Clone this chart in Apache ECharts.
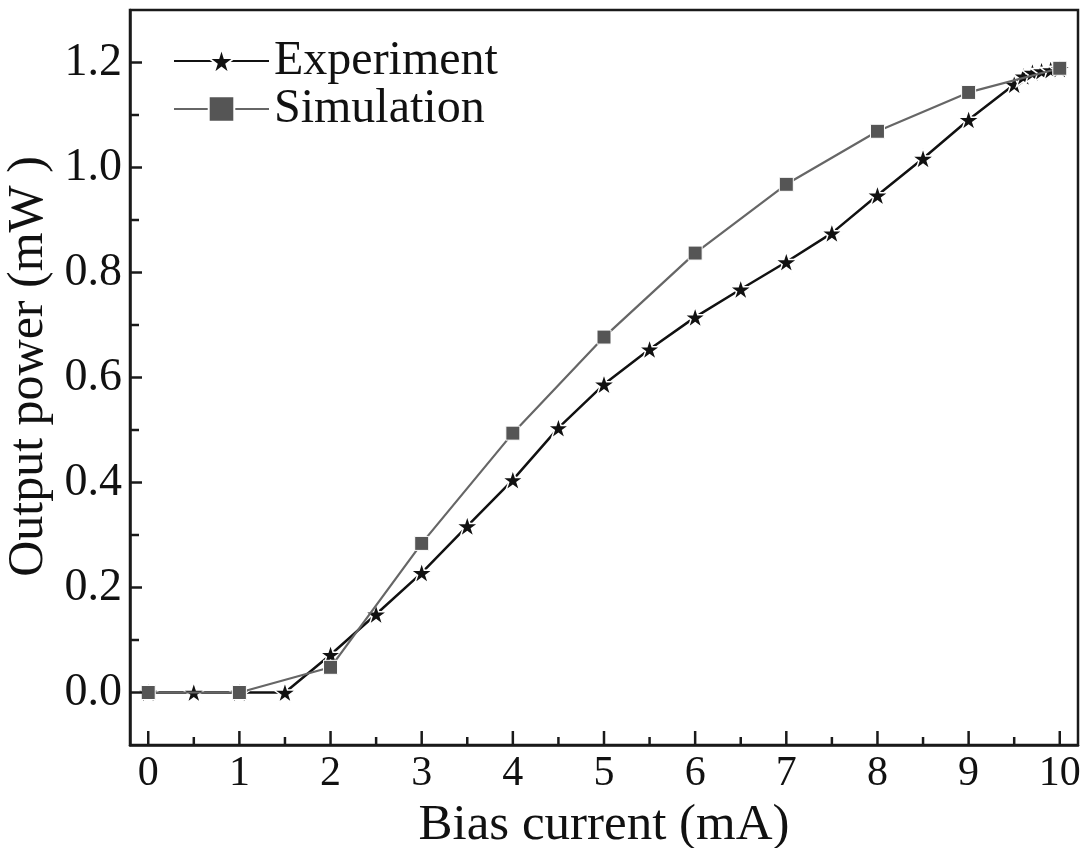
<!DOCTYPE html>
<html>
<head>
<meta charset="utf-8">
<script src="https://cdn.jsdelivr.net/npm/echarts@6/dist/echarts.min.js"></script>
<style>
html,body{margin:0;padding:0;background:#fff;}
#chart{width:1086px;height:848px;}
</style>
</head>
<body>
<div id="chart"></div>
<script>
// ---- data ----
const expX = [0, 0.5, 1, 1.5, 2, 2.5, 3, 3.5, 4, 4.5, 5, 5.5, 6, 6.5, 7, 7.5, 8, 8.5, 9, 9.5, 9.6, 9.7, 9.8, 9.9, 10];
const expY = [0, 0, 0, 0, 0.072, 0.149, 0.228, 0.317, 0.405, 0.504, 0.587, 0.654, 0.715, 0.768, 0.820, 0.875, 0.947, 1.017, 1.091, 1.158, 1.174, 1.181, 1.184, 1.186, 1.188];
const simX = [0, 1, 2, 3, 4, 5, 6, 7, 8, 9, 10];
const simY = [0, 0, 0.048, 0.284, 0.494, 0.677, 0.837, 0.968, 1.069, 1.143, 1.189];
const xMajorTicks = [0, 1, 2, 3, 4, 5, 6, 7, 8, 9, 10];
const xMinorTicks = [0.5, 1.5, 2.5, 3.5, 4.5, 5.5, 6.5, 7.5, 8.5, 9.5];
const yMajorTicks = [0, 0.2, 0.4, 0.6, 0.8, 1.0, 1.2];
const yMinorTicks = [0.1, 0.3, 0.5, 0.7, 0.9, 1.1];
const xView = [-0.2, 10.2];
const yView = [-0.1, 1.3];
const seriesNames = ['Experiment', 'Simulation'];
const xTitle = 'Bias current (mA)';
const yTitle = 'Output power (mW )';

const FONT = '"Liberation Serif", "Times New Roman", serif';
const STAR = 'path://M50 0L61.2 34.6L97.6 34.5L68.1 55.9L79.4 90.5L50 69L20.6 90.5L31.9 55.9L2.4 34.5L38.8 34.6Z';
const axisColor = '#1a1a1a';

// tick mark rows: [xValue, yValue, length]
const xTickRows = xMajorTicks.map(v => [v, yView[0], 14]).concat(xMinorTicks.map(v => [v, yView[0], 8]));
const yTickRows = yMajorTicks.map(v => [xView[0], v, 12]).concat(yMinorTicks.map(v => [xView[0], v, 9]));

function tickRenderer(dir) {
  return function (params, api) {
    const p = api.coord([api.value(0), api.value(1)]);
    const len = api.value(2);
    const shape = dir === 'x'
      ? {x1: p[0], y1: p[1], x2: p[0], y2: p[1] - len}
      : {x1: p[0], y1: p[1], x2: p[0] + len, y2: p[1]};
    return {type: 'line', shape: shape, style: {stroke: axisColor, lineWidth: 2.5}};
  };
}

const chart = echarts.init(document.getElementById('chart'), null, {renderer: 'canvas'});

const option = {
  backgroundColor: '#fff',
  animation: false,
  grid: {
    left: 130, right: 8, top: 10, bottom: 103,
    show: true, borderColor: axisColor, borderWidth: 2.5,
    outerBoundsMode: 'none', containLabel: false
  },
  legend: {
    orient: 'vertical',
    left: 168, top: 32,
    itemWidth: 95, itemHeight: 32,
    itemGap: 0,
    textStyle: {fontFamily: FONT, fontSize: 48, color: '#111', lineHeight: 45},
    data: seriesNames
  },
  xAxis: {
    type: 'value', min: xView[0], max: xView[1], position: 'bottom',
    axisLine: {show: true, onZero: false, lineStyle: {color: axisColor, width: 2.5}},
    axisTick: {show: false},
    axisLabel: {show: true, margin: 8, fontFamily: FONT, fontSize: 42, color: '#111', customValues: xMajorTicks,
      formatter: v => String(v)},
    splitLine: {show: false},
    name: xTitle, nameLocation: 'middle', nameGap: 38,
    nameTextStyle: {fontFamily: FONT, fontSize: 51, color: '#111', verticalAlign: 'top'}
  },
  yAxis: {
    type: 'value', min: yView[0], max: yView[1], position: 'left',
    axisLine: {show: true, onZero: false, lineStyle: {color: axisColor, width: 2.5}},
    axisTick: {show: false},
    axisLabel: {show: true, margin: 8, fontFamily: FONT, fontSize: 46, color: '#111', customValues: yMajorTicks,
      formatter: v => v.toFixed(1)},
    splitLine: {show: false},
    name: yTitle, nameLocation: 'middle', nameGap: 76, nameRotate: 90,
    nameTextStyle: {fontFamily: FONT, fontSize: 50, color: '#111', padding: [0, 0, 0, 22]}
  },
  series: [
    {
      name: seriesNames[0], type: 'line',
      data: expX.map((x, i) => [x, expY[i]]),
      symbol: STAR, symbolSize: 22, symbolKeepAspect: true,
      itemStyle: {color: '#111', borderColor: '#fff', borderWidth: 1.5},
      lineStyle: {color: '#111', width: 2.5},
      showSymbol: true, z: 2
    },
    {
      name: seriesNames[1], type: 'line',
      data: simX.map((x, i) => [x, simY[i]]),
      symbol: 'rect', symbolSize: 14,
      itemStyle: {color: '#555', borderColor: '#fff', borderWidth: 1},
      lineStyle: {color: '#666', width: 2.2},
      showSymbol: true, z: 3
    },
    {
      name: 'xTicks', type: 'custom', data: xTickRows,
      encode: {x: 0, y: 1}, dimensions: ['x', 'y', 'len'],
      renderItem: tickRenderer('x'), clip: false, silent: true, z: 5
    },
    {
      name: 'yTicks', type: 'custom', data: yTickRows,
      encode: {x: 0, y: 1}, dimensions: ['x', 'y', 'len'],
      renderItem: tickRenderer('y'), clip: false, silent: true, z: 5
    }
  ]
};
chart.setOption(option);
</script>
</body>
</html>
